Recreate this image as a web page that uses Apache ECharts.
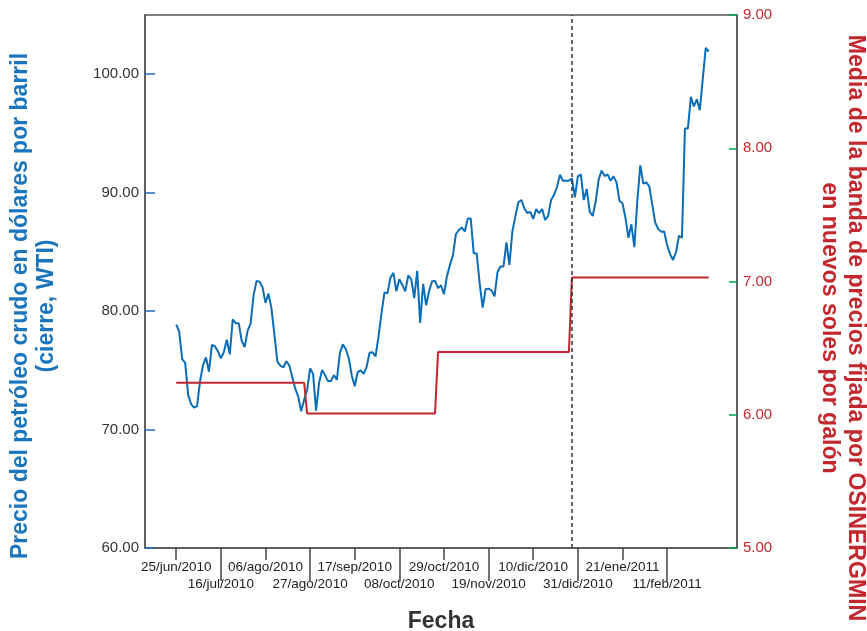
<!DOCTYPE html>
<html><head><meta charset="utf-8">
<script src="https://cdn.jsdelivr.net/npm/echarts@6/dist/echarts.min.js"></script>
<style>html,body{margin:0;padding:0;background:#fff}#c{width:867px;height:631px}</style>
</head><body><div id="c"></div>
<script>
// ---- data ----
const tickLabels = ['25/jun/2010','16/jul/2010','06/ago/2010','27/ago/2010','17/sep/2010','08/oct/2010',
  '29/oct/2010','19/nov/2010','10/dic/2010','31/dic/2010','21/ene/2011','11/feb/2011'];
const leftTicks = [60, 70, 80, 90, 100];
const rightTicks = [5, 6, 7, 8, 9];

// WTI close, one value per weekday starting 25/jun/2010
const wtiStart = '25/jun/2010';
const wti = [
  78.86, 78.26, 75.94, 75.63, 72.95, 72.14, 71.85, 71.98, 74.07, 75.44,
  76.09, 74.90, 77.15, 77.04, 76.62, 76.01, 76.54, 77.58, 76.35, 79.30,
  78.98, 78.98, 77.50, 76.96, 78.36, 78.95, 81.34, 82.55, 82.49, 82.01,
  80.70, 81.48, 80.25, 78.02, 75.74, 75.39, 75.24, 75.77, 75.42, 74.43,
  73.46, 72.80, 71.55, 72.52, 73.36, 75.17, 74.70, 71.60, 73.91, 75.02,
  74.60, 74.09, 74.09, 74.60, 74.20, 76.45, 77.19, 76.80, 76.02, 74.57,
  73.66, 74.86, 74.99, 74.70, 75.30, 76.49, 76.52, 76.18, 77.86, 79.80,
  81.58, 81.50, 82.82, 83.23, 81.67, 82.70, 82.21, 81.67, 83.01, 82.69,
  81.10, 83.40, 79.00, 82.30, 80.50, 81.69, 82.52, 82.55, 81.94, 82.18,
  81.43, 82.95, 83.90, 84.69, 86.49, 86.85, 87.06, 86.72, 87.81, 87.81,
  84.88, 84.86, 82.34, 80.30, 81.85, 81.90, 81.74, 81.25, 83.30, 83.76,
  83.76, 85.80, 83.90, 86.75, 88.00, 89.19, 89.38, 88.69, 88.28, 88.37,
  87.79, 88.61, 88.28, 88.62, 87.70, 88.02, 89.37, 89.82, 90.48, 91.51,
  91.00, 91.00, 91.00, 91.20, 89.60, 91.38, 91.55, 89.38, 90.30, 88.38,
  88.03, 89.25, 91.11, 91.86, 91.40, 91.54, 91.00, 91.38, 90.86, 89.30,
  89.11, 87.87, 86.19, 87.33, 85.40, 89.34, 92.30, 90.77, 90.86, 90.54,
  89.03, 87.48, 86.94, 86.71, 86.73, 85.58, 84.81, 84.32, 84.99, 86.36,
  86.20, 95.42, 95.42, 98.10, 97.28, 97.88, 96.97, 99.63, 102.23, 101.91
];

// OSINERGMIN band mean (piecewise constant)
const bandStart = ['25/jun/2010', '26/ago/2010', '27/oct/2010', '29/dic/2010'];
const bandEnd   = ['25/ago/2010', '26/oct/2010', '28/dic/2010', '03/mar/2011'];
const bandLevel = [6.24, 6.01, 6.47, 7.03];
const markDate = '29/dic/2010';

// ---- weekday category axis ----
const MES = ['ene','feb','mar','abr','may','jun','jul','ago','sep','oct','nov','dic'];
function fmt(d){ return String(d.getDate()).padStart(2,'0') + '/' + MES[d.getMonth()] + '/' + d.getFullYear(); }
const categories = [];
const dd = new Date(2010, 5, 11);
while (categories.length < 199) {
  const w = dd.getDay();
  if (w !== 0 && w !== 6) categories.push(fmt(dd));
  dd.setDate(dd.getDate() + 1);
}
const idx = s => categories.indexOf(s);
const i0 = idx(wtiStart);
const wtiData = wti.map((v, i) => [i0 + i, v]);
const bandData = [];
bandLevel.forEach((v, k) => { bandData.push([idx(bandStart[k]), v]); bandData.push([idx(bandEnd[k]), v]); });

const FONT = '"Liberation Sans", Arial, Helvetica, sans-serif';
const AX = '#555';
const isRow = r => (i, v) => { const k = tickLabels.indexOf(v); return k >= 0 && k % 2 === r; };

function dateAxis(row) {
  return {
    type: 'category', data: categories, boundaryGap: true, position: 'bottom', offset: 0,
    axisLine: {show: row === 0, onZero: false, lineStyle: {color: AX, width: 1.5}},
    axisTick: {show: true, alignWithLabel: true, length: row === 0 ? 12 : 33,
               lineStyle: {color: '#444', width: 1.5}, interval: isRow(row)},
    axisLabel: {
      interval: isRow(row), showMinLabel: true, showMaxLabel: true, hideOverlap: false,
      fontSize: 13.5, color: '#222', margin: row === 0 ? 12 : 29, fontFamily: FONT
    },
    splitLine: {show: false}
  };
}

const chart = echarts.init(document.getElementById('c'), null, {renderer: 'canvas'});
chart.setOption({
  animation: false,
  backgroundColor: '#fff',
  textStyle: {fontFamily: FONT},
  grid: {left: 145, right: 130, top: 15, bottom: 83, containLabel: false, outerBoundsMode: 'none',
         show: true, borderColor: AX, borderWidth: 1.5, backgroundColor: 'transparent'},
  xAxis: [dateAxis(0), dateAxis(1)],
  yAxis: [
    {
      type: 'value', position: 'left', min: 60, max: 105, interval: 10,
      axisLine: {show: true, lineStyle: {color: AX, width: 1.5}},
      axisTick: {show: true, inside: true, length: 10, customValues: leftTicks, lineStyle: {color: '#1f6fb8', width: 1.5}},
      axisLabel: {customValues: leftTicks, formatter: v => Number(v).toFixed(2), fontSize: 15, color: '#333', margin: 6, fontFamily: FONT},
      splitLine: {show: false}
    },
    {
      type: 'value', position: 'right', min: 5, max: 9, interval: 1,
      axisLine: {show: true, lineStyle: {color: AX, width: 1.5}},
      axisTick: {show: true, inside: true, length: 8, customValues: rightTicks, lineStyle: {color: '#00a651', width: 1.5}},
      axisLabel: {customValues: rightTicks, formatter: v => Number(v).toFixed(2), fontSize: 15, color: '#c1272d', margin: 6, fontFamily: FONT},
      splitLine: {show: false}
    }
  ],
  series: [
    {
      type: 'line', name: 'WTI', xAxisIndex: 0, yAxisIndex: 0, data: wtiData,
      showSymbol: false, symbol: 'none',
      lineStyle: {color: '#0b6db7', width: 2}, itemStyle: {color: '#0b6db7'},
      markLine: {
        silent: true, symbol: ['none', 'none'], label: {show: false},
        lineStyle: {color: '#333', type: [4, 3], width: 1.5},
        data: [{xAxis: markDate}]
      }
    },
    {
      type: 'line', name: 'Banda', xAxisIndex: 0, yAxisIndex: 1, data: bandData,
      showSymbol: false, symbol: 'none',
      lineStyle: {color: '#c1272d', width: 2}, itemStyle: {color: '#c1272d'}
    }
  ],
  graphic: [
    {type: 'text', x: 34, y: 306, rotation: Math.PI / 2,
     style: {text: 'Precio del petróleo crudo en dólares por barril\n(cierre, WTI)', fill: '#1b75bc',
             fontSize: 23, fontWeight: 'bold', fontFamily: FONT, align: 'center', verticalAlign: 'middle', lineHeight: 26}},
    {type: 'text', x: 842, y: 328, rotation: -Math.PI / 2,
     style: {text: 'Media de la banda de precios fijada por OSINERGMIN\nen nuevos soles por galón', fill: '#c1272d',
             fontSize: 23.1, fontWeight: 'bold', fontFamily: FONT, align: 'center', verticalAlign: 'middle', lineHeight: 26}},
    {type: 'text', x: 441, y: 622,
     style: {text: 'Fecha', fill: '#333', fontSize: 23, fontWeight: 'bold', fontFamily: FONT, align: 'center', verticalAlign: 'middle'}}
  ]
});
</script>
</body></html>
